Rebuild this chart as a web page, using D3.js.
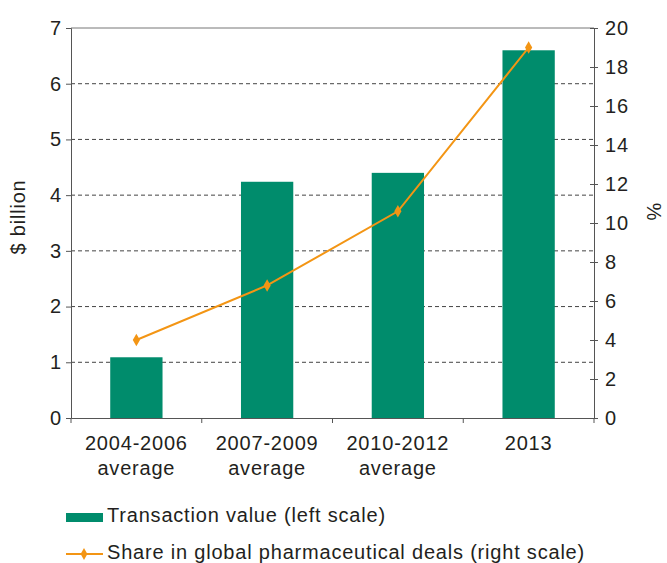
<!DOCTYPE html>
<head>
  <meta charset="utf-8">
  <script src="https://d3js.org/d3.v7.min.js"></script>
  <style>
    body { margin:0; background:#fff; }
    text { font-family: "Liberation Sans", Arial, sans-serif; fill:#231f20; letter-spacing:0.8px; }
  </style>
</head>
<body>
<script>

/* Data */
var categories = [["2004-2006", "average"], ["2007-2009", "average"], ["2010-2012", "average"], ["2013"]];
var values = [1.09, 4.24, 4.40, 6.6];       // $ billion, left scale
var shares = [4.0, 6.8, 10.6, 19.0];        // %, right scale
var leftTicks = [0, 1, 2, 3, 4, 5, 6, 7];
var rightTicks = [0, 2, 4, 6, 8, 10, 12, 14, 16, 18, 20];
var legendLabels = ["Transaction value (left scale)", "Share in global pharmaceutical deals (right scale)"];

var width = 667, height = 563,
    margin = { top: 28, right: 73, bottom: 145, left: 71 };

var green = '#008c6c', orange = '#f39514';

var svg = d3.select('body')
  .append('svg')
    .attr('width', width)
    .attr('height', height);

var x = d3.scaleBand()
    .domain(d3.range(categories.length))
    .range([margin.left, width - margin.right])
    .paddingInner(0.6)
    .paddingOuter(0.3);

var band = d3.scaleBand()
    .domain(d3.range(categories.length))
    .range([margin.left, width - margin.right]);

var y = d3.scaleLinear().domain([0, 7]).range([height - margin.bottom, margin.top]);
var y2 = d3.scaleLinear().domain([0, 20]).range([height - margin.bottom, margin.top]);

// gridlines
svg.append('g')
  .selectAll('line')
  .data(leftTicks.filter(function(d) { return d > 0 && d < 7; }))
  .enter().append('line')
    .attr('x1', margin.left).attr('x2', width - margin.right)
    .attr('y1', function(d) { return y(d); }).attr('y2', function(d) { return y(d); })
    .attr('stroke', '#444').attr('stroke-width', 1)
    .attr('stroke-dasharray', '4,3');

// top border
svg.append('line')
    .attr('x1', margin.left).attr('x2', width - margin.right)
    .attr('y1', y(7)).attr('y2', y(7))
    .attr('stroke', '#777').attr('stroke-width', 1);

// bars
svg.append('g')
  .selectAll('rect')
  .data(values)
  .enter().append('rect')
    .attr('x', function(d, i) { return x(i); })
    .attr('width', x.bandwidth())
    .attr('y', function(d) { return y(d); })
    .attr('height', function(d) { return y(0) - y(d); })
    .attr('fill', green);

// axes
var left = svg.append('g')
    .attr('transform', 'translate(' + margin.left + ',0)')
    .call(d3.axisLeft(y).tickValues(leftTicks).tickFormat(d3.format('d')).tickSize(5).tickPadding(4));
left.selectAll('text').style('font-size', '20px');

var right = svg.append('g')
    .attr('transform', 'translate(' + (width - margin.right) + ',0)')
    .call(d3.axisRight(y2).tickValues(rightTicks).tickFormat(d3.format('d')).tickSize(4).tickPadding(7));
right.selectAll('.tick line').attr('x1', -4);
right.selectAll('text').style('font-size', '20px');

var bottom = svg.append('g')
    .attr('transform', 'translate(0,' + y(0) + ')')
    .call(d3.axisBottom(band).tickValues([]).tickSizeOuter(0));
bottom.selectAll('line.sep')
  .data(d3.range(categories.length + 1))
  .enter().append('line')
    .attr('class', 'sep')
    .attr('x1', function(i) { return margin.left + i * band.bandwidth(); })
    .attr('x2', function(i) { return margin.left + i * band.bandwidth(); })
    .attr('y1', 0).attr('y2', 5);

[left, right, bottom].forEach(function(g) {
  g.selectAll('.domain').attr('stroke', '#555');
  g.selectAll('line').attr('stroke', '#555');
});

// category labels
var cat = svg.append('g')
  .selectAll('text')
  .data(categories)
  .enter().append('text')
    .attr('text-anchor', 'middle')
    .attr('x', function(d, i) { return band(i) + band.bandwidth() / 2; })
    .attr('y', y(0) + 32)
    .style('font-size', '20px');
cat.selectAll('tspan')
  .data(function(d) { return d; })
  .enter().append('tspan')
    .attr('x', function() { return d3.select(this.parentNode).attr('x'); })
    .attr('dy', function(d, i) { return i ? 25 : 0; })
    .text(function(d) { return d; });

// line series
var line = d3.line()
    .x(function(d, i) { return x(i) + x.bandwidth() / 2; })
    .y(function(d) { return y2(d); });

svg.append('path')
    .datum(shares)
    .attr('d', line)
    .attr('fill', 'none')
    .attr('stroke', orange)
    .attr('stroke-width', 2);

svg.append('g')
  .selectAll('path')
  .data(shares)
  .enter().append('path')
    .attr('transform', function(d, i) { return 'translate(' + (x(i) + x.bandwidth() / 2) + ',' + y2(d) + ')'; })
    .attr('d', d3.symbol().type(d3.symbolDiamond).size(45)())
    .attr('fill', orange);

// axis titles
svg.append('text')
    .attr('transform', 'translate(25,217) rotate(-90)')
    .attr('text-anchor', 'middle')
    .style('font-size', '20px')
    .text('$ billion');

svg.append('text')
    .attr('transform', 'translate(647,212) rotate(90)')
    .attr('text-anchor', 'middle')
    .style('font-size', '20px')
    .text('%');

// legend
var lg = svg.append('g').attr('transform', 'translate(66,0)');
lg.append('rect')
    .attr('x', 0).attr('y', 513).attr('width', 37).attr('height', 9)
    .attr('fill', green);
lg.append('text')
    .attr('x', 41).attr('y', 522)
    .style('font-size', '20px')
    .text(legendLabels[0]);
lg.append('line')
    .attr('x1', 0).attr('x2', 37).attr('y1', 554).attr('y2', 554)
    .attr('stroke', orange).attr('stroke-width', 2);
lg.append('path')
    .attr('transform', 'translate(18,554)')
    .attr('d', d3.symbol().type(d3.symbolDiamond).size(40)())
    .attr('fill', orange);
lg.append('text')
    .attr('x', 41).attr('y', 559)
    .style('font-size', '20px')
    .text(legendLabels[1]);

</script>
</body>
